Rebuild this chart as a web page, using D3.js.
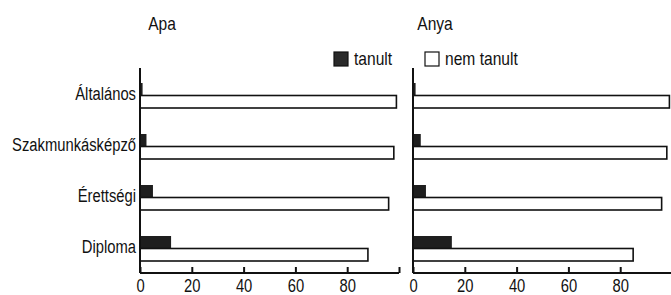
<!DOCTYPE html>
<html>
<head>
<meta charset="utf-8">
<script src="https://cdn.jsdelivr.net/npm/d3@7"></script>
<style>
  body { margin: 0; background: #fff; }
  svg text { font-family: "Liberation Sans", Arial, sans-serif; fill: #111; }
</style>
</head>
<body>
<script>
// Categories (education level) and the two series per panel, in percent
const categories = ["Általános", "Szakmunkásképző", "Érettségi", "Diploma"];
const panels = ["Apa", "Anya"];
const apaTanult = [1, 2.5, 5, 12];
const apaNemTanult = [99, 98, 96, 88];
const anyaTanult = [1, 3, 5, 15];
const anyaNemTanult = [99, 98, 96, 85];
const tickValues = [0, 20, 40, 60, 80];
const seriesNames = ["tanult", "nem tanult"];

const w = 671, h = 295;
const fontSize = 18;
const narrow = 0.82; // the original uses a condensed face

const svg = d3.select("body").append("svg")
  .attr("width", w)
  .attr("height", h);

// squeeze text horizontally, keeps it as real text
function condense(sel) {
  sel.each(function() {
    const len = this.getComputedTextLength();
    if (len > 0) {
      d3.select(this)
        .attr("textLength", len * narrow)
        .attr("lengthAdjust", "spacingAndGlyphs");
    }
  });
}

// y band for categories, shared by both panels
const y = d3.scaleBand()
  .domain(categories)
  .range([70, 274]);

const barH = 12.5;
const axisY = 273;

const panelData = [
  { name: panels[0], x0: 140, tanult: apaTanult, nem: apaNemTanult, labels: true },
  { name: panels[1], x0: 413, tanult: anyaTanult, nem: anyaNemTanult, labels: false }
];

panelData.forEach(function(p) {
  const x = d3.scaleLinear().domain([0, 100]).range([p.x0, p.x0 + 259]);
  const g = svg.append("g");

  // title
  g.append("text")
    .attr("x", x(8.5))
    .attr("y", 30)
    .attr("text-anchor", "middle")
    .style("font-size", (fontSize + 1) + "px")
    .text(p.name)
    .call(condense);

  // tanult bars (dark)
  g.selectAll(".tanult")
    .data(categories)
    .enter().append("rect")
    .attr("class", "tanult")
    .attr("x", x(0))
    .attr("y", d => y(d) + y.bandwidth() / 2 - barH)
    .attr("width", (d, i) => x(p.tanult[i]) - x(0))
    .attr("height", barH)
    .style("fill", "#1e1e1e");

  // nem tanult bars (white, outlined)
  g.selectAll(".nem")
    .data(categories)
    .enter().append("rect")
    .attr("class", "nem")
    .attr("x", x(0))
    .attr("y", d => y(d) + y.bandwidth() / 2)
    .attr("width", (d, i) => x(p.nem[i]) - x(0))
    .attr("height", barH)
    .style("fill", "#fff")
    .style("stroke", "#111")
    .style("stroke-width", 1.6);

  // x axis: ticks pointing up, labels below
  const xAxis = d3.axisBottom(x)
    .tickValues(tickValues.concat([100]))
    .tickSize(-6)
    .tickFormat(d => d === 100 ? "" : d);

  const ax = g.append("g")
    .attr("transform", "translate(0," + axisY + ")")
    .call(xAxis);
  ax.select(".domain").attr("d", "M" + x(0) + ",0H" + x(100)).style("stroke", "#111").style("stroke-width", 2);
  ax.selectAll(".tick line").style("stroke", "#111").style("stroke-width", 2);
  ax.selectAll(".tick text")
    .attr("y", 19)
    .attr("dy", 0)
    .style("font-size", fontSize + "px")
    .attr("font-family", null)
    .call(condense);

  // y axis line
  g.append("line")
    .attr("x1", x(0)).attr("x2", x(0))
    .attr("y1", 68).attr("y2", axisY)
    .style("stroke", "#111")
    .style("stroke-width", 2);

  if (p.labels) {
    g.selectAll(".cat")
      .data(categories)
      .enter().append("text")
      .attr("x", x(0) - 4)
      .attr("y", d => y(d) + y.bandwidth() / 2 + 4)
      .attr("text-anchor", "end")
      .style("font-size", fontSize + "px")
      .text(d => d)
      .call(condense);
  }
});

// legend
const legend = svg.append("g");
const legendX = [334, 425];
seriesNames.forEach(function(s, i) {
  legend.append("rect")
    .attr("x", legendX[i])
    .attr("y", 52)
    .attr("width", 14)
    .attr("height", 14)
    .style("fill", i === 0 ? "#2a2a2a" : "#fff")
    .style("stroke", "#111")
    .style("stroke-width", 1.2);
  legend.append("text")
    .attr("x", legendX[i] + 20)
    .attr("y", 65)
    .style("font-size", (fontSize + 1) + "px")
    .text(s)
    .call(condense);
});
</script>
</body>
</html>
